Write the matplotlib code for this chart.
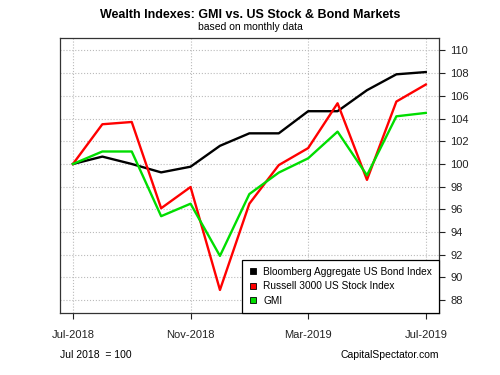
import matplotlib
matplotlib.use("Agg")
import matplotlib.pyplot as plt
from matplotlib.lines import Line2D

months = ["Jul-2018", "Aug-2018", "Sep-2018", "Oct-2018", "Nov-2018", "Dec-2018", "Jan-2019",
          "Feb-2019", "Mar-2019", "Apr-2019", "May-2019", "Jun-2019", "Jul-2019"]
bond = [100.0, 100.65, 100.0, 99.26, 99.76, 101.6, 102.7, 102.7, 104.65, 104.65, 106.5, 107.9, 108.1]
stock = [100.0, 103.5, 103.7, 96.1, 97.97, 88.9, 96.5, 99.9, 101.4, 105.35, 98.6, 105.5, 107.0]
gmi = [100.0, 101.1, 101.1, 95.4, 96.5, 91.9, 97.35, 99.24, 100.5, 102.85, 99.0, 104.2, 104.5]

series = [
    ("Bloomberg Aggregate US Bond Index", bond, "black"),
    ("Russell 3000 US Stock Index", stock, "#ff0000"),
    ("GMI", gmi, "#00dd00"),
]
xtick_idx = [0, 4, 8, 12]
yticks = list(range(88, 111, 2))

plt.rcParams["font.family"] = ["Liberation Sans", "DejaVu Sans"]

fig = plt.figure(figsize=(5, 3.75), dpi=100)
ax = fig.add_axes([60 / 500, 1 - 313 / 375, 379 / 500, 275 / 375])

x = list(range(len(months)))
for name, vals, col in series:
    ax.plot(x, vals, color=col, lw=1.7, zorder=3)

ax.set_xlim(-0.44, 12.45)
ax.set_ylim(86.87, 111.1)
ax.set_xticks(xtick_idx)
ax.set_xticklabels([months[i] for i in xtick_idx], fontsize=8)
ax.set_yticks(yticks)
ax.set_yticklabels([str(v) for v in yticks], fontsize=8)
ax.yaxis.tick_right()
ax.tick_params(axis="both", direction="out", length=4, width=0.8, colors="#222222")
ax.tick_params(axis="x", pad=8)
ax.tick_params(axis="y", pad=4)
ax.grid(True, color="#bbbbbb", linestyle=":", linewidth=0.8)
for sp in ax.spines.values():
    sp.set_color("#333333")
    sp.set_linewidth(0.9)

handles = [Line2D([], [], linestyle="none", marker="s", markersize=5,
                  markerfacecolor=col, markeredgecolor="black", markeredgewidth=0.6)
           for _, _, col in series]
leg = ax.legend(handles, [s[0] for s in series], loc="lower right", fontsize=7.3,
                fancybox=False, framealpha=1, edgecolor="black", borderaxespad=0,
                handlelength=0.8, handletextpad=0.6, labelspacing=0.45,
                borderpad=0.7)
leg.get_frame().set_linewidth(0.9)
leg.set_zorder(5)

fig.text(0.5, 1 - 15 / 375, "Wealth Indexes: GMI vs. US Stock & Bond Markets",
         ha="center", va="center", fontsize=9, fontweight="bold")
fig.text(0.5, 1 - 27 / 375, "based on monthly data", ha="center", va="center", fontsize=7.5)
fig.text(60 / 500, 1 - 355 / 375, "Jul 2018  = 100", ha="left", va="center", fontsize=7.5)
fig.text(439 / 500, 1 - 355 / 375, "CapitalSpectator.com", ha="right", va="center", fontsize=7.5)

fig.savefig("out.png", dpi=100)
